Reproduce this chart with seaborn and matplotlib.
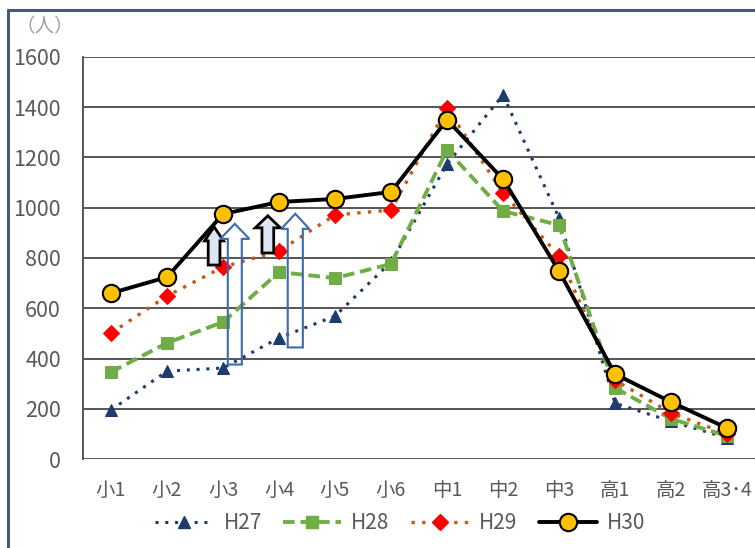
import numpy as np
import pandas as pd
import seaborn as sns
import matplotlib
matplotlib.use("Agg")
import matplotlib.pyplot as plt
from matplotlib.patches import Polygon
from matplotlib.lines import Line2D

# School grades (elementary 小, junior high 中, high school 高)
grades = ["小1", "小2", "小3", "小4", "小5", "小6", "中1", "中2", "中3", "高1", "高2", "高3･4"]

# Number of people per grade, by fiscal year
h27 = [195, 350, 362, 482, 569, 784, 1174, 1449, 959, 222, 150, 84]
h28 = [346, 462, 545, 744, 720, 776, 1230, 987, 931, 283, 160, 92]
h29 = [501, 649, 764, 828, 971, 991, 1397, 1059, 808, 314, 183, 100]
h30 = [660, 724, 975, 1023, 1035, 1063, 1350, 1114, 748, 338, 227, 123]

series_names = ["H27", "H28", "H29", "H30"]
yticks = [0, 200, 400, 600, 800, 1000, 1200, 1400, 1600]

sns.set_theme(style="white")
plt.rcParams["font.family"] = ["Noto Sans CJK JP", "DejaVu Sans"]

df = pd.DataFrame({
    "idx": np.tile(np.arange(len(grades)), 4),
    "value": h27 + h28 + h29 + h30,
    "year": np.repeat(series_names, len(grades)),
})

fig = plt.figure(figsize=(7.55, 5.48), dpi=100)
ax = fig.add_axes([0.110, 0.1624, 0.890, 0.7336])

styles = {
    "H27": dict(color="#1f3a6e", linestyle=(0, (1, 2.2)), linewidth=2.2, marker="^",
                markersize=9, markerfacecolor="#1f3a6e", markeredgecolor="#1f3a6e"),
    "H28": dict(color="#70ad47", linestyle=(0, (3, 1.5)), linewidth=2.8, marker="s",
                markersize=8, markerfacecolor="#70ad47", markeredgecolor="#70ad47"),
    "H29": dict(color="#c55a11", linestyle=(0, (1, 2.2)), linewidth=2.4, marker="D",
                markersize=8, markerfacecolor="#ff0000", markeredgecolor="#ff0000"),
    "H30": dict(color="#000000", linestyle="-", linewidth=2.8, marker="o",
                markersize=12.5, markerfacecolor="#ffc000", markeredgecolor="#000000",
                markeredgewidth=1.5),
}

for name in series_names:
    sub = df[df["year"] == name]
    sns.lineplot(data=sub, x="idx", y="value", ax=ax, label=None, legend=False,
                 **styles[name])

ax.set_xlim(-0.5, len(grades) - 0.5)
ax.set_ylim(0, 1600)
ax.set_xticks(range(len(grades)))
ax.set_xticklabels(grades)
ax.set_yticks(yticks)
ax.set_yticklabels([str(v) for v in yticks])
ax.set_xlabel("")
ax.set_ylabel("")
ax.tick_params(axis="both", colors="#595959", length=0)
ax.tick_params(axis="x", labelsize=14, pad=15)
ax.tick_params(axis="y", labelsize=15.5, pad=16)
ax.yaxis.grid(True, color="#555555", linewidth=1.4)
ax.set_axisbelow(True)
for side in ["top", "right", "bottom"]:
    ax.spines[side].set_visible(False)
ax.spines["left"].set_color("#555555")
ax.spines["left"].set_linewidth(1.4)

# Unit label
fig.text(0.059, 0.952, "（人）", color="#a0a0a0", fontsize=14, ha="center", va="center")


def up_arrow(xc, y0, y1, shaft_w, head_w, head_len, face, edge, lw):
    pts = [
        (xc - shaft_w / 2, y0), (xc + shaft_w / 2, y0),
        (xc + shaft_w / 2, y1 - head_len), (xc + head_w / 2, y1 - head_len),
        (xc, y1), (xc - head_w / 2, y1 - head_len),
        (xc - shaft_w / 2, y1 - head_len),
    ]
    ax.add_patch(Polygon(pts, closed=True, facecolor=face, edgecolor=edge,
                         linewidth=lw, zorder=5, joinstyle="miter"))


# Growth callouts between grades 3 and 4
up_arrow(1.84, 772, 924, 0.21, 0.34, 56, "#dce6f2", "#000000", 2.0)
up_arrow(2.21, 376, 936, 0.25, 0.52, 60, "none", "#3d6aa8", 1.5)
up_arrow(2.80, 820, 968, 0.21, 0.45, 48, "#dce6f2", "#000000", 2.0)
up_arrow(3.29, 444, 976, 0.27, 0.50, 60, "none", "#3d6aa8", 1.5)

handles = [Line2D([0], [0], **styles[n]) for n in series_names]
leg = fig.legend(handles, series_names, loc="center", ncol=4,
                 bbox_to_anchor=(0.53, 0.045), frameon=False, fontsize=15,
                 handlelength=2.8, columnspacing=1.0, handletextpad=0.5)
for t in leg.get_texts():
    t.set_color("#595959")

# Outer frame (top and left edges)
fig.add_artist(Line2D([0.010, 1.0], [0.982, 0.982], transform=fig.transFigure,
                      color="#4a5a70", linewidth=2.2))
fig.add_artist(Line2D([0.011, 0.011], [0.0, 0.982], transform=fig.transFigure,
                      color="#4a5a70", linewidth=2.2))

fig.savefig("out.png", dpi=100)
